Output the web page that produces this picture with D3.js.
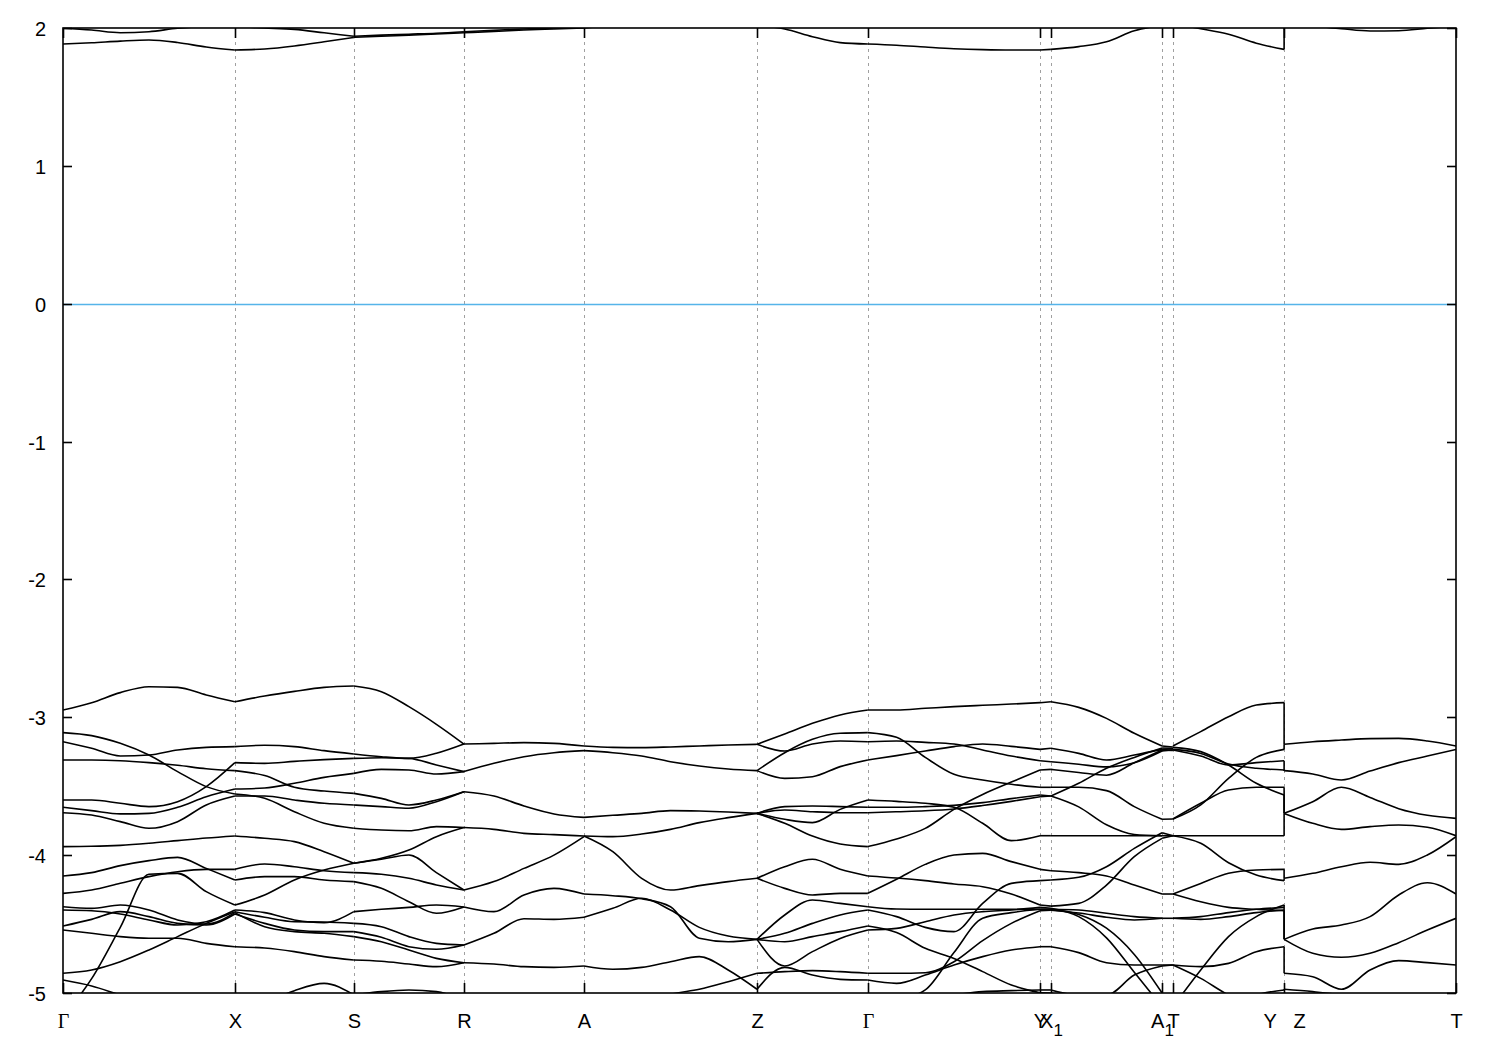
<!DOCTYPE html>
<html><head><meta charset="utf-8">
<script src="https://cdn.jsdelivr.net/npm/d3@7"></script>
<style>body{margin:0;background:#fff}svg{display:block}</style>
</head><body><svg id="c" width="1500" height="1050"></svg>
<script>
// high-symmetry points along the k-path
const kTicks = [0, 0.617, 1.044, 1.439, 1.870, 2.491, 2.889, 3.507, 3.546, 3.945, 3.984, 4.383, 5.0];
const kLabels = [["Γ",""],["X",""],["S",""],["R",""],["A",""],["Z",""],["Γ",""],["Y",""],["X","1"],["A","1"],["T",""],["Y\u00A0\u00A0\u00A0Z",""],["T",""]];
const yTicks = [-5,-4,-3,-2,-1,0,1,2];

// band energies (eV), evenly spaced samples in each path segment
const bandsGX = [
 [-2.947,-2.894,-2.821,-2.778,-2.783,-2.838,-2.887],
 [-3.111,-3.133,-3.189,-3.274,-3.394,-3.503,-3.556],
 [-3.177,-3.225,-3.281,-3.274,-3.237,-3.218,-3.213],
 [-3.310,-3.310,-3.315,-3.329,-3.348,-3.373,-3.387],
 [-3.600,-3.600,-3.624,-3.648,-3.612,-3.503,-3.329],
 [-3.653,-3.677,-3.701,-3.697,-3.653,-3.576,-3.520],
 [-3.692,-3.709,-3.757,-3.805,-3.757,-3.636,-3.571],
 [-3.938,-3.936,-3.929,-3.914,-3.895,-3.876,-3.861],
 [-4.151,-4.127,-4.076,-4.040,-4.016,-4.096,-4.180],
 [-4.277,-4.253,-4.204,-4.156,-4.120,-4.103,-4.103],
 [-4.374,-4.386,-4.362,-4.398,-4.470,-4.499,-4.417],
 [-5.172,-4.896,-4.524,-4.139,-4.132,-4.265,-4.362],
 [-4.857,-4.833,-4.773,-4.688,-4.591,-4.495,-4.410],
 [-4.514,-4.466,-4.410,-4.446,-4.495,-4.507,-4.427],
 [-4.398,-4.403,-4.427,-4.470,-4.507,-4.483,-4.398],
 [-4.543,-4.567,-4.591,-4.603,-4.603,-4.640,-4.664],
 [-4.906,-4.949,-5.014,-5.075,-5.123,-5.147,-5.160],
 [1.884,1.893,1.905,1.913,1.895,1.862,1.840],
 [1.998,1.985,1.966,1.973,1.998,2.010,2.010]
];
const bandsXS = [
 [-2.887,-2.846,-2.812,-2.783,-2.773],
 [-3.213,-3.203,-3.213,-3.242,-3.266],
 [-3.329,-3.334,-3.320,-3.307,-3.298],
 [-3.387,-3.423,-3.508,-3.535,-3.552],
 [-3.520,-3.513,-3.479,-3.436,-3.407],
 [-3.571,-3.571,-3.600,-3.624,-3.636],
 [-3.556,-3.588,-3.685,-3.769,-3.805],
 [-3.861,-3.878,-3.902,-3.975,-4.059],
 [-4.103,-4.064,-4.084,-4.113,-4.127],
 [-4.180,-4.156,-4.156,-4.180,-4.192],
 [-4.362,-4.289,-4.180,-4.108,-4.059],
 [-4.398,-4.417,-4.470,-4.490,-4.410],
 [-4.410,-4.451,-4.483,-4.485,-4.495],
 [-4.427,-4.495,-4.543,-4.555,-4.555],
 [-4.417,-4.519,-4.555,-4.567,-4.591],
 [-4.664,-4.674,-4.700,-4.736,-4.761],
 [-5.160,-5.075,-4.983,-4.930,-5.014],
 [1.840,1.848,1.870,1.900,1.932],
 [2.010,2.000,1.990,1.965,1.940]
];
const bandsSR = [
 [-2.773,-2.814,-2.923,-3.051,-3.194],
 [-3.266,-3.286,-3.298,-3.261,-3.194],
 [-3.298,-3.293,-3.298,-3.346,-3.394],
 [-3.407,-3.378,-3.382,-3.411,-3.394],
 [-3.552,-3.588,-3.636,-3.600,-3.540],
 [-3.636,-3.648,-3.660,-3.612,-3.540],
 [-3.805,-3.818,-3.823,-3.793,-3.800],
 [-4.059,-4.023,-3.963,-3.866,-3.800],
 [-4.059,-4.030,-3.999,-4.127,-4.253],
 [-4.127,-4.139,-4.168,-4.216,-4.253],
 [-4.192,-4.241,-4.338,-4.422,-4.376],
 [-4.410,-4.393,-4.379,-4.362,-4.376],
 [-4.495,-4.519,-4.591,-4.640,-4.652],
 [-4.555,-4.596,-4.664,-4.683,-4.652],
 [-4.591,-4.628,-4.688,-4.749,-4.780],
 [-4.761,-4.770,-4.790,-4.809,-4.780],
 [-5.014,-4.990,-4.978,-4.990,-5.050],
 [1.932,1.940,1.948,1.956,1.966],
 [1.940,1.948,1.955,1.962,1.973]
];
const bandsRA = [
 [-3.194,-3.189,-3.184,-3.189,-3.208],
 [-3.394,-3.334,-3.286,-3.257,-3.242],
 [-3.540,-3.571,-3.643,-3.701,-3.726],
 [-3.800,-3.813,-3.842,-3.851,-3.861],
 [-4.253,-4.192,-4.096,-4.000,-3.866],
 [-4.376,-4.410,-4.289,-4.241,-4.282],
 [-4.652,-4.567,-4.461,-4.466,-4.451],
 [-4.780,-4.790,-4.809,-4.814,-4.804],
 [-5.050,-5.080,-5.100,-5.120,-5.120],
 [1.966,1.975,1.985,1.993,2.000],
 [1.973,1.983,1.993,2.000,2.005]
];
const bandsAZ = [
 [-3.208,-3.218,-3.220,-3.215,-3.208,-3.201,-3.196],
 [-3.242,-3.257,-3.281,-3.322,-3.353,-3.375,-3.387],
 [-3.726,-3.711,-3.697,-3.677,-3.680,-3.687,-3.697],
 [-3.861,-3.866,-3.847,-3.813,-3.764,-3.728,-3.697],
 [-3.861,-3.975,-4.168,-4.253,-4.221,-4.192,-4.168],
 [-4.282,-4.294,-4.316,-4.374,-4.603,-4.628,-4.611],
 [-4.451,-4.386,-4.313,-4.398,-4.524,-4.587,-4.611],
 [-4.804,-4.828,-4.814,-4.773,-4.736,-4.833,-4.973],
 [-5.120,-5.120,-5.080,-5.010,-4.973,-4.918,-4.857],
 [2.000,2.020,2.040,2.050,2.050,2.040,2.020]
];
const bandsZG = [
 [-3.196,-3.121,-3.044,-2.983,-2.947],
 [-3.196,-3.245,-3.194,-3.172,-3.177],
 [-3.387,-3.257,-3.160,-3.116,-3.111],
 [-3.387,-3.443,-3.431,-3.358,-3.310],
 [-3.697,-3.648,-3.644,-3.648,-3.653],
 [-3.697,-3.673,-3.685,-3.692,-3.692],
 [-3.697,-3.740,-3.764,-3.668,-3.600],
 [-3.697,-3.769,-3.861,-3.919,-3.938],
 [-4.168,-4.084,-4.030,-4.103,-4.151],
 [-4.168,-4.241,-4.289,-4.277,-4.277],
 [-4.611,-4.434,-4.325,-4.350,-4.374],
 [-4.611,-4.567,-4.495,-4.434,-4.398],
 [-4.611,-4.628,-4.591,-4.555,-4.514],
 [-4.611,-4.804,-4.700,-4.604,-4.543],
 [-4.857,-4.845,-4.838,-4.845,-4.857],
 [-4.973,-4.814,-4.870,-4.901,-4.906],
 [2.020,1.993,1.937,1.894,1.884]
];
const bandsGY = [
 [-2.947,-2.947,-2.935,-2.923,-2.913,-2.904,-2.894],
 [-3.177,-3.172,-3.182,-3.194,-3.237,-3.281,-3.315],
 [-3.111,-3.145,-3.291,-3.414,-3.455,-3.486,-3.508],
 [-3.310,-3.278,-3.245,-3.213,-3.194,-3.211,-3.233],
 [-3.600,-3.610,-3.624,-3.653,-3.769,-3.895,-3.859],
 [-3.653,-3.653,-3.648,-3.639,-3.619,-3.590,-3.564],
 [-3.692,-3.685,-3.678,-3.665,-3.640,-3.610,-3.576],
 [-3.938,-3.883,-3.806,-3.668,-3.560,-3.470,-3.382],
 [-4.151,-4.166,-4.185,-4.209,-4.229,-4.282,-4.362],
 [-4.277,-4.175,-4.067,-3.999,-3.987,-4.047,-4.103],
 [-4.374,-4.391,-4.393,-4.393,-4.393,-4.393,-4.393],
 [-4.398,-4.446,-4.524,-4.555,-4.350,-4.205,-4.185],
 [-4.514,-4.562,-4.676,-4.749,-4.845,-4.942,-4.998],
 [-4.543,-4.531,-4.483,-4.434,-4.410,-4.398,-4.379],
 [-5.075,-5.051,-4.978,-4.707,-4.458,-4.417,-4.393],
 [-4.857,-4.857,-4.853,-4.773,-4.620,-4.495,-4.403],
 [-4.906,-4.930,-4.870,-4.797,-4.736,-4.688,-4.664],
 [-5.200,-5.200,-5.050,-5.015,-4.990,-4.983,-4.978],
 [1.884,1.875,1.862,1.850,1.843,1.840,1.840]
];
const bandsYX1 = [
 [-2.894,-2.887],[-3.233,-3.225],[-3.315,-3.322],[-3.382,-3.378],[-3.508,-3.508],
 [-3.564,-3.571],[-3.576,-3.571],[-3.859,-3.859],[-4.103,-4.113],[-4.185,-4.180],
 [-4.362,-4.370],[-4.379,-4.385],[-4.393,-4.393],[-4.393,-4.395],[-4.403,-4.400],
 [-4.664,-4.664],[-4.998,-5.000],[-4.978,-4.978],[1.840,1.845]
];
const bandsX1A1 = [
 [-2.887,-2.928,-3.008,-3.116,-3.208],
 [-3.225,-3.262,-3.310,-3.274,-3.233],
 [-3.322,-3.341,-3.360,-3.330,-3.245],
 [-3.508,-3.508,-3.532,-3.648,-3.740],
 [-3.571,-3.479,-3.370,-3.291,-3.223],
 [-3.378,-3.400,-3.420,-3.330,-3.238],
 [-3.571,-3.650,-3.780,-3.850,-3.859],
 [-3.859,-3.859,-3.859,-3.859,-3.859],
 [-4.113,-4.127,-4.151,-4.217,-4.282],
 [-4.180,-4.161,-4.084,-3.951,-3.837],
 [-4.370,-4.350,-4.217,-4.011,-3.878],
 [-4.393,-4.398,-4.422,-4.446,-4.458],
 [-4.385,-4.446,-4.600,-4.850,-5.100],
 [-4.664,-4.707,-4.780,-4.797,-4.797],
 [-4.978,-5.015,-5.015,-4.870,-4.804],
 [-4.395,-4.430,-4.530,-4.720,-5.000],
 [-4.400,-4.420,-4.450,-4.470,-4.458],
 [-5.000,-5.050,-5.100,-5.100,-5.100],
 [1.845,1.865,1.900,1.980,2.020]
];
const bandsA1T = [
 [-3.208,-3.215],[-3.233,-3.228],[-3.245,-3.235],[-3.223,-3.225],[-3.238,-3.240],
 [-3.740,-3.738],[-3.859,-3.859],[-3.837,-3.859],[-3.878,-3.859],[-4.282,-4.282],
 [-4.458,-4.458],[-4.797,-4.797],[-4.804,-4.797],[-5.100,-5.100],[2.020,2.030]
];
const bandsTY = [
 [-3.208,-3.104,-2.996,-2.911,-2.894],
 [-3.218,-3.249,-3.346,-3.479,-3.564],
 [-3.233,-3.262,-3.339,-3.370,-3.382],
 [-3.237,-3.281,-3.346,-3.329,-3.315],
 [-3.738,-3.636,-3.443,-3.291,-3.233],
 [-3.738,-3.624,-3.527,-3.508,-3.508],
 [-3.859,-3.859,-3.859,-3.859,-3.859],
 [-3.859,-3.914,-4.055,-4.144,-4.185],
 [-4.282,-4.205,-4.132,-4.108,-4.103],
 [-4.458,-4.446,-4.417,-4.393,-4.379],
 [-4.458,-4.466,-4.446,-4.417,-4.398],
 [-4.282,-4.338,-4.379,-4.393,-4.403],
 [-4.797,-4.809,-4.785,-4.700,-4.664],
 [-5.100,-4.833,-4.591,-4.446,-4.362],
 [-4.797,-4.894,-5.015,-5.100,-5.100],
 [-5.100,-5.100,-5.100,-5.015,-4.978],
 [2.030,1.995,1.955,1.890,1.845]
];
const bandsZT = [
 [-3.196,-3.177,-3.165,-3.155,-3.153,-3.172,-3.208],
 [-3.387,-3.411,-3.455,-3.390,-3.329,-3.281,-3.233],
 [-3.697,-3.612,-3.508,-3.581,-3.663,-3.711,-3.733],
 [-3.697,-3.769,-3.813,-3.793,-3.781,-3.798,-3.859],
 [-4.168,-4.132,-4.084,-4.052,-4.067,-3.999,-3.866],
 [-4.611,-4.536,-4.507,-4.446,-4.289,-4.200,-4.282],
 [-4.611,-4.712,-4.741,-4.712,-4.635,-4.543,-4.458],
 [-4.857,-4.882,-4.973,-4.833,-4.765,-4.780,-4.797],
 [-4.973,-4.990,-5.015,-5.060,-5.080,-5.100,-5.100],
 [2.030,2.015,1.995,1.978,1.980,1.998,2.015]
];
// band connections across the Y|Z discontinuity: [E at Y, E at Z]
const yzJumps = [
 [-2.894,-3.196],[-3.233,-3.196],[-3.315,-3.387],[-3.382,-3.387],[-3.508,-3.697],
 [-3.564,-3.697],[-3.859,-3.697],[-4.103,-4.168],[-4.185,-4.168],[-4.362,-4.611],
 [-4.403,-4.611],[-4.664,-4.857],[-4.978,-4.973],[1.845,2.030]
];
const segments = [
 [0,1,bandsGX],[1,2,bandsXS],[2,3,bandsSR],[3,4,bandsRA],[4,5,bandsAZ],[5,6,bandsZG],
 [6,7,bandsGY],[7,8,bandsYX1],[8,9,bandsX1A1],[9,10,bandsA1T],[10,11,bandsTY],[11,12,bandsZT]
];

const svg = d3.select('#c');
const L=63, R=1456, T=28, B=993;
const x = d3.scaleLinear().domain([kTicks[0], kTicks[kTicks.length-1]]).range([L,R]);
const y = d3.scaleLinear().domain([-5,2]).range([B,T]);

svg.append('defs').append('clipPath').attr('id','clip')
  .append('rect').attr('x',L).attr('y',T).attr('width',R-L).attr('height',B-T);

// dashed vertical lines at high-symmetry points
svg.append('g').selectAll('line').data(kTicks.slice(1,-1)).join('line')
  .attr('x1',d=>Math.round(x(d))+0.5).attr('x2',d=>Math.round(x(d))+0.5)
  .attr('y1',T).attr('y2',B)
  .attr('stroke','#a0a0a0').attr('stroke-width',1).attr('stroke-dasharray','3,4');

// Fermi level
svg.append('line').attr('x1',L).attr('x2',R).attr('y1',Math.round(y(0))+0.5).attr('y2',Math.round(y(0))+0.5)
  .attr('stroke','#56b4e9').attr('stroke-width',1.5);

const gb = svg.append('g').attr('clip-path','url(#clip)');
const line = d3.line().x(d=>x(d[0])).y(d=>y(d[1])).curve(d3.curveMonotoneX);
segments.forEach(([i0,i1,bands])=>{
  const k0=kTicks[i0], k1=kTicks[i1];
  bands.forEach(b=>{
    const n=b.length;
    const pts=b.map((e,i)=>[k0+(k1-k0)*i/(n-1), e]);
    gb.append('path').attr('d',line(pts)).attr('fill','none')
      .attr('stroke','#000').attr('stroke-width',1.6).attr('stroke-linejoin','round');
  });
});
gb.selectAll('line.jump').data(yzJumps).join('line').attr('class','jump')
  .attr('x1',x(kTicks[11])).attr('x2',x(kTicks[11]))
  .attr('y1',d=>y(d[0])).attr('y2',d=>y(d[1]))
  .attr('stroke','#000').attr('stroke-width',1.6);

// border
svg.append('rect').attr('x',L).attr('y',T).attr('width',R-L).attr('height',B-T)
  .attr('fill','none').attr('stroke','#000').attr('stroke-width',1.6);

// y ticks (both sides, inward)
const yt = svg.append('g');
yTicks.forEach(v=>{
  const yy=Math.round(y(v))+0.5;
  yt.append('line').attr('x1',L).attr('x2',L+9).attr('y1',yy).attr('y2',yy).attr('stroke','#000').attr('stroke-width',1.6);
  yt.append('line').attr('x1',R-9).attr('x2',R).attr('y1',yy).attr('y2',yy).attr('stroke','#000').attr('stroke-width',1.6);
  yt.append('text').attr('x',L-17).attr('y',yy).attr('text-anchor','end').attr('dominant-baseline','central')
    .attr('font-family','Liberation Sans, Arial, sans-serif').attr('font-size',20).text(v);
});
// x ticks (top and bottom, inward)
const xt = svg.append('g');
kTicks.forEach((k,i)=>{
  const xx=Math.round(x(k))+0.5;
  xt.append('line').attr('x1',xx).attr('x2',xx).attr('y1',B).attr('y2',B-10).attr('stroke','#000').attr('stroke-width',1.6);
  xt.append('line').attr('x1',xx).attr('x2',xx).attr('y1',T).attr('y2',T+10).attr('stroke','#000').attr('stroke-width',1.6);
  const [main,sub]=kLabels[i];
  const t=xt.append('text').attr('x',xx).attr('y',1028).attr('text-anchor','middle')
    .attr('font-size',20)
    .attr('font-family', main==='Γ' ? 'Liberation Serif, DejaVu Serif, serif' : 'Liberation Sans, Arial, sans-serif');
  t.append('tspan').text(main);
  if(sub) t.append('tspan').attr('font-size',17).attr('dy',8).text(sub);
});
</script></body></html>
